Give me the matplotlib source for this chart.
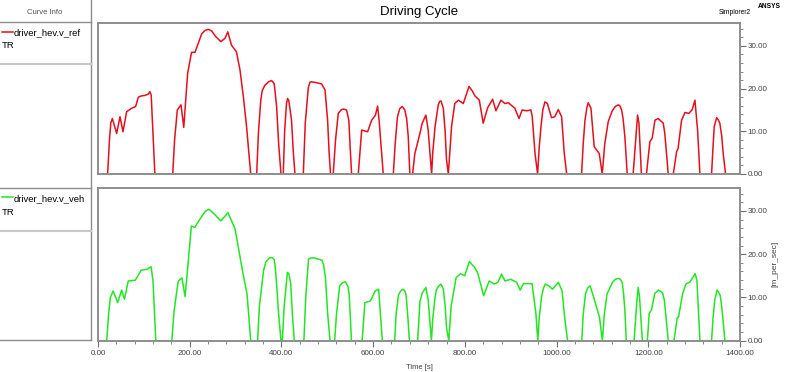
import matplotlib
matplotlib.use('Agg')
import matplotlib.pyplot as plt
from matplotlib.lines import Line2D
from matplotlib.ticker import MultipleLocator, FormatStrFormatter

plt.rcParams['font.family'] = ['Liberation Sans', 'DejaVu Sans']

# reference speed (red): (time [s], speed [m/s])
ref_pts = [
    (0, 0), (21, 0), (25, 8), (28, 12), (31.3, 13.0), (40.7, 9.5), (48, 13.4), (54.5, 9.9),
    (62.5, 14.6), (73.4, 15.4), (82, 15.8), (88, 18.0), (95, 18.3), (102, 18.4), (109.7, 18.7),
    (113, 19.3), (116, 18.5), (124, 0),
    (163, 0), (167, 8), (173, 15.0), (181, 16.2), (187, 10.9), (195.5, 23.6), (204, 28.5),
    (211.5, 28.5), (226, 32.8), (233, 33.6), (240.5, 33.9), (248, 33.5), (256.5, 32.2),
    (268, 31.0), (277, 31.8), (283, 33.3), (291, 30.2), (302, 28.6), (309.6, 24.4),
    (317, 18.1), (324, 11.1), (333, 0),
    (346, 0), (350, 10), (355, 17.3), (358, 19.5), (364, 20.8), (372, 21.6), (378.6, 21.9),
    (384, 21.2), (386, 19.5), (389.5, 15.8), (394, 7), (399, 0),
    (404, 0), (407, 10), (411, 16.5), (413.5, 17.7), (416, 17.2), (419, 15), (422, 12.6),
    (426, 5), (429.5, 0),
    (447.7, 0), (452, 12), (458.6, 20.2), (462, 21.5), (466, 21.6), (476, 21.4),
    (487.6, 21.1), (495, 19.7), (500.7, 12.6), (504, 5), (507, 0),
    (513, 0), (518, 8), (524, 14.2), (531, 15.1), (536, 15.2), (542, 15.0), (547, 12.6),
    (550, 6), (553, 0),
    (567.6, 0), (575, 10.3), (588, 9.9), (596.7, 12.6), (605, 13.8), (609.7, 15.9),
    (613, 12.6), (622, 0),
    (644, 0), (648, 7), (653, 13.4), (658, 15.3), (663.5, 15.8), (669, 15.0), (673, 13),
    (676.6, 8.7), (680, 0),
    (686, 0), (691, 4.8), (702, 9.5), (707, 11.9), (715, 13.8), (720, 10.3), (727.5, 0),
    (730, 5), (735, 11.1), (742, 16.2), (745, 17), (748, 17.1), (753, 15.4), (757, 10),
    (760, 3.3), (764, 0),
    (771, 11.1), (778, 16.5), (786, 17.3), (796.6, 16.5), (801.6, 18.1), (809, 20.5),
    (816, 19.5), (822, 18.3), (831.5, 17.3), (840, 11.9), (849.6, 15.5), (860.5, 17.5),
    (867.8, 14.8), (878.7, 17.3), (887.4, 16.5), (894.7, 16.7), (909, 15.4), (918, 13.0),
    (925, 15.0), (934.7, 14.8), (944, 15.0), (947, 13.4), (953, 4.8), (958.6, 0),
    (962, 6), (966, 11.1), (970, 15), (974.6, 16.9), (980, 16.5), (989, 13.2), (996, 13.4),
    (1003.7, 15.1), (1011, 13.4), (1016.8, 4.8), (1022, 0),
    (1054.6, 0), (1058, 7), (1062, 12.6), (1066, 15.5), (1069, 16.7), (1075, 15.4),
    (1082, 6.4), (1093, 4.8), (1099.6, 0),
    (1105, 7), (1112.7, 12.3), (1121.4, 14.8), (1128, 15.8), (1134.5, 16.2), (1138, 16),
    (1141.8, 15.0), (1145, 13), (1149, 8.7), (1154, 0),
    (1167, 0), (1176.6, 13.8), (1179.6, 11.9), (1185, 0),
    (1196, 0), (1203.5, 7.6), (1208.6, 8.4), (1214.5, 12.6), (1221.7, 13.0), (1232.6, 11.9),
    (1236, 9.5), (1243.5, 0),
    (1254.5, 0), (1261.7, 5.2), (1265, 6.0), (1272.6, 12.6), (1280, 14.4), (1288.6, 14.2),
    (1295.8, 15.1), (1301.7, 17.3), (1307.5, 10.3), (1312.6, 0),
    (1338, 0), (1341, 6), (1343.8, 11.1), (1349, 13.2), (1352, 12.8), (1356, 11.9),
    (1360, 9), (1363.4, 4.8), (1368.5, 0), (1400, 0),
]

# vehicle speed (green)
veh_pts = [
    (0, 0), (19, 0), (23, 6), (27, 10), (33, 11.5), (43, 8.8), (51.5, 11.7), (57.7, 9.6),
    (66, 13.8), (81.5, 14.0), (94, 16.3), (107, 16.5), (115.7, 17.1), (120, 13.8), (126, 0),
    (161, 0), (166, 7), (175, 13.8), (183, 14.5), (190, 10.2), (203.7, 26.5), (211, 26.2),
    (226.5, 28.8), (234, 29.9), (242, 30.4), (252.4, 29.4), (268, 27.7), (283.5, 29.6),
    (299, 25.8), (315, 16.2), (325, 10.8), (333, 0),
    (348, 0), (352, 8), (361, 16.2), (366, 18.2), (374.6, 19.2), (380, 19.2), (384, 18.8),
    (386, 17.5), (389, 13.8), (394, 6), (399, 0),
    (402, 0), (406, 8), (413, 15.8), (416, 15.5), (420, 13.5), (424, 6), (428, 0),
    (449, 0), (453, 10), (459, 18.8), (463, 19.1), (470, 19.2), (488.5, 18.6), (492, 17.5),
    (496, 14.6), (501, 6), (506, 0),
    (516, 0), (520, 6), (527, 12.7), (533, 13.4), (540, 13.6), (545, 12.5), (547.6, 10.8),
    (550, 6), (552.7, 0),
    (576, 0), (582, 8.8), (594, 9.2), (604.6, 11.5), (612, 11.9), (620, 0),
    (647, 0), (650, 6), (655, 10.5), (660, 11.5), (665, 11.9), (669, 11.5), (672, 10.5),
    (676, 5), (679, 0),
    (697, 0), (702, 9.0), (707, 11.0), (715, 12.3), (720, 9.5), (727, 0),
    (730, 5), (735, 10.0), (738, 11.8), (742, 12.5), (747.6, 13.1), (753, 12.0), (757, 8),
    (760, 3.0), (765, 0),
    (770, 8.0), (781, 14.6), (791, 15.5), (799.5, 15.0), (810, 18.3), (820, 17.1),
    (827.6, 15.8), (841, 10.4), (853, 13.8), (863.6, 13.1), (872, 13.5), (880, 15.4),
    (887.5, 13.8), (900, 14.2), (913, 13.5), (920.6, 11.7), (928, 13.2), (946.5, 13.2),
    (955, 6.2), (959, 0),
    (962, 5), (967, 10.0), (971, 12), (975.5, 13.1), (983, 12.7), (991, 11.9), (1004, 13.5),
    (1012, 11.5), (1018, 5.0), (1024, 0),
    (1055, 0), (1058, 6), (1063, 10.8), (1068, 12.2), (1073, 12.7), (1081, 10.0),
    (1093.6, 5.4), (1100, 0),
    (1104, 6), (1110, 10.8), (1122, 13.5), (1128, 14.2), (1135, 14.4), (1139, 14.2),
    (1143, 13.5), (1146, 11), (1149, 7.0), (1152, 0),
    (1169, 0), (1175, 9.0), (1178, 12.3), (1181, 10.0), (1187, 0),
    (1198, 0), (1202, 6.3), (1207, 7.1), (1214, 10.9), (1222, 11.7), (1231, 11.1),
    (1235, 9.4), (1243.6, 0),
    (1256, 0), (1263, 5.2), (1266, 5.5), (1275, 10.9), (1282, 13.1), (1291, 13.6),
    (1302, 15.5), (1306, 14.0), (1312.7, 0),
    (1338, 0), (1341, 5), (1345, 9.4), (1350, 11.7), (1353, 11.3), (1357, 10.4), (1360, 8),
    (1363, 4.8), (1367, 0), (1400, 0),
]

t_ref, v_ref = zip(*ref_pts)
t_veh, v_veh = zip(*veh_pts)

W, H = 787, 372
fig = plt.figure(figsize=(W / 100, H / 100), dpi=100)
fig.patch.set_facecolor('white')


def hline(y, x0, x1, color='#8c8c8c', lw=1.0):
    fig.add_artist(Line2D([x0 / W, x1 / W], [1 - y / H, 1 - y / H], color=color, lw=lw,
                          transform=fig.transFigure))


def vline(x, y0, y1, color='#8c8c8c', lw=1.0):
    fig.add_artist(Line2D([x / W, x / W], [1 - y0 / H, 1 - y1 / H], color=color, lw=lw,
                          transform=fig.transFigure))


def style(ax, show_x):
    ax.set_xlim(0, 1400)
    ax.set_ylim(0, 35.3)
    for s in ax.spines.values():
        s.set_color('#8e8e8e')
        s.set_linewidth(1.4)
    ax.yaxis.tick_right()
    ax.yaxis.set_major_locator(MultipleLocator(10))
    ax.yaxis.set_minor_locator(MultipleLocator(2))
    ax.yaxis.set_major_formatter(FormatStrFormatter('%.2f'))
    ax.tick_params(axis='y', which='major', direction='out', length=4, width=0.8,
                   color='#707070', labelsize=5.8, labelcolor='#404040', pad=1.5)
    ax.tick_params(axis='y', which='minor', direction='out', length=2.5, width=0.6,
                   color='#707070')
    if show_x:
        ax.xaxis.set_major_locator(MultipleLocator(200))
        ax.xaxis.set_minor_locator(MultipleLocator(40))
        ax.xaxis.set_major_formatter(FormatStrFormatter('%.2f'))
        ax.tick_params(axis='x', which='major', direction='out', length=4, width=0.8,
                       color='#707070', labelsize=5.8, labelcolor='#404040', pad=3)
        ax.tick_params(axis='x', which='minor', direction='out', length=2.5, width=0.6,
                       color='#707070')
    else:
        ax.set_xticks([])


ax1 = fig.add_axes([98 / W, 1 - 174 / H, 642 / W, (174 - 23.3) / H])
ax1.plot(t_ref, v_ref, color='#e3101e', lw=1.1)
style(ax1, False)

ax2 = fig.add_axes([98 / W, 1 - 340.7 / H, 642 / W, (340.7 - 188) / H])
ax2.plot(t_veh, v_veh, color='#22e622', lw=1.1)
style(ax2, True)
ax2.set_xlabel('Time [s]', fontsize=5.5, color='#404040', labelpad=5)
fig.text(775 / W, 1 - 264 / H, '[m_per_sec]', rotation=90, fontsize=6, color='#404040',
         ha='center', va='center')

# header texts
fig.text(419 / W, 1 - 12 / H, 'Driving Cycle', fontsize=9.5, ha='center', va='center')
fig.text(735 / W, 1 - 12.5 / H, 'Simplorer2', fontsize=4.8, ha='center', va='center')
fig.text(769 / W, 1 - 7 / H, 'ANSYS', fontsize=4.8, fontweight='bold', ha='center', va='center')

# curve info panel
fig.text(45 / W, 1 - 12 / H, 'Curve Info', fontsize=5.5, color='#505050', ha='center', va='center')
vline(91, 0, 340)
hline(22, 0, 91)
hline(64, 0, 91, color='#c8c8c8', lw=1.5)
hline(188, 0, 91)
hline(231, 0, 91, color='#c8c8c8', lw=1.5)
hline(340, 0, 91)

hline(31.5, 2, 13, color='#e3101e', lw=1.1)
fig.text(14 / W, 1 - 33 / H, 'driver_hev.v_ref', fontsize=6.8, ha='left', va='center')
fig.text(2 / W, 1 - 45 / H, 'TR', fontsize=6.8, ha='left', va='center')

hline(197, 2, 13, color='#22e622', lw=1.1)
fig.text(14 / W, 1 - 198.5 / H, 'driver_hev.v_veh', fontsize=6.8, ha='left', va='center')
fig.text(2 / W, 1 - 212 / H, 'TR', fontsize=6.8, ha='left', va='center')

fig.savefig('out.png', dpi=100)
